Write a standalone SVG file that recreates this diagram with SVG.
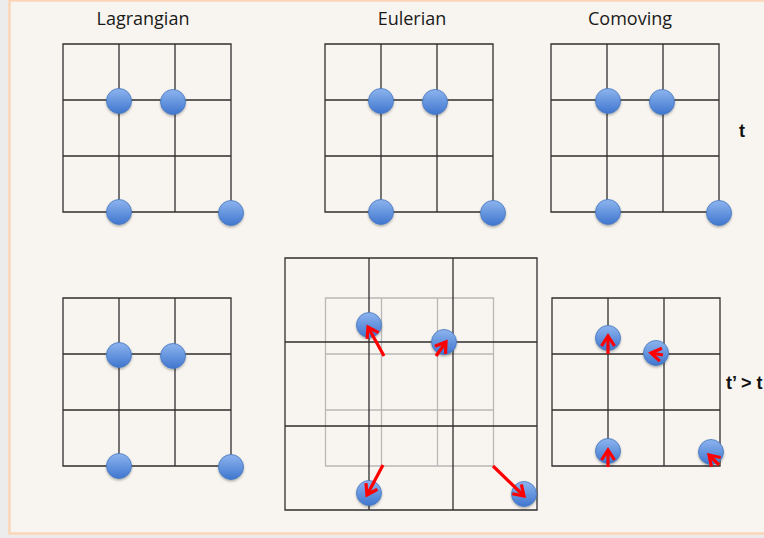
<svg xmlns="http://www.w3.org/2000/svg" width="764" height="538" viewBox="0 0 764 538">
<style>
.frame{fill:#f8f5f0;stroke:#fbd5b8;stroke-width:2.5}
.grid{fill:none;stroke:#2e2e2e;stroke-width:1.3}
.light{fill:none;stroke:#b8b8b8;stroke-width:1.3}
.p{fill:url(#ball);stroke:#4677bf;stroke-width:0.8;filter:url(#sh)}
.lbl{font-family:"Open Sans","Noto Sans",sans-serif;font-size:18px;fill:#1a1a1a;text-anchor:middle}
.tm{font-family:"Liberation Sans",Arial,sans-serif;font-weight:bold;font-size:18px;fill:#111}
.arr{stroke:#ff0000;stroke-width:3.2;fill:none;marker-end:url(#ah)}
</style>
<defs>
<linearGradient id="ball" x1="0" y1="0" x2="0" y2="1">
<stop offset="0" stop-color="#8db4ee"/>
<stop offset="1" stop-color="#3f76cf"/>
</linearGradient>
<filter id="sh" x="-30%" y="-30%" width="160%" height="170%">
<feDropShadow dx="0" dy="1.5" stdDeviation="1.2" flood-color="#000" flood-opacity="0.3"/>
</filter>
<marker id="ah" markerUnits="userSpaceOnUse" markerWidth="20" markerHeight="20" viewBox="-14 -10 20 20" refX="0" refY="0" orient="auto" overflow="visible">
<path d="M-10,-6.5 L0,0 L-10,6.5" fill="none" stroke="#ff0000" stroke-width="3.2" stroke-linejoin="miter"/>
</marker>
<path id="g3" d="M0 0H168V168H0Z M56 0V168 M112 0V168 M0 56H168 M0 112H168"/>
<path id="g3b" d="M0 0H252V252H0Z M84 0V252 M168 0V252 M0 84H252 M0 168H252"/>
</defs>
<rect x="0" y="0" width="764" height="538" fill="#ececec"/>
<rect class="frame" x="9.5" y="0.5" width="770" height="533"/>

<g id="labels">
<text class="lbl" x="143" y="25">Lagrangian</text>
<text class="lbl" x="412" y="25">Eulerian</text>
<text class="lbl" x="630" y="25">Comoving</text>
<text class="tm" x="739" y="137">t</text>
<text class="tm" x="726" y="389">t’ &gt; t</text>
</g>

<g id="lagrangian-t">
<use href="#g3" class="grid" x="63" y="44"/>
<circle class="p" cx="119" cy="101" r="12.5"/>
<circle class="p" cx="173" cy="102" r="12.5"/>
<circle class="p" cx="119" cy="212" r="12.5"/>
<circle class="p" cx="231" cy="213" r="12.5"/>
</g>

<g id="eulerian-t">
<use href="#g3" class="grid" x="325" y="44"/>
<circle class="p" cx="381" cy="101" r="12.5"/>
<circle class="p" cx="435" cy="102" r="12.5"/>
<circle class="p" cx="381" cy="212" r="12.5"/>
<circle class="p" cx="493" cy="213" r="12.5"/>
</g>

<g id="comoving-t">
<use href="#g3" class="grid" x="551" y="44"/>
<circle class="p" cx="608" cy="101" r="12.5"/>
<circle class="p" cx="662" cy="102" r="12.5"/>
<circle class="p" cx="608" cy="212" r="12.5"/>
<circle class="p" cx="719" cy="213" r="12.5"/>
</g>

<g id="lagrangian-t2">
<use href="#g3" class="grid" x="63" y="298"/>
<circle class="p" cx="119" cy="355" r="12.5"/>
<circle class="p" cx="173" cy="356" r="12.5"/>
<circle class="p" cx="119" cy="466" r="12.5"/>
<circle class="p" cx="231" cy="467" r="12.5"/>
</g>

<g id="eulerian-t2">
<use href="#g3" class="light" x="325.5" y="298"/>
<use href="#g3b" class="grid" x="285" y="258"/>
<circle class="p" cx="369" cy="325" r="12.5"/>
<circle class="p" cx="444" cy="342" r="12.5"/>
<circle class="p" cx="369" cy="493" r="12.5"/>
<circle class="p" cx="524" cy="494" r="12.5"/>
</g>

<g id="comoving-t2">
<use href="#g3" class="grid" x="552" y="298"/>
<circle class="p" cx="608" cy="338" r="12.5"/>
<circle class="p" cx="656" cy="353" r="12.5"/>
<circle class="p" cx="608" cy="451" r="12.5"/>
<circle class="p" cx="711" cy="452" r="12.5"/>
</g>

<g id="connectors">
<line class="arr" x1="384" y1="356" x2="368" y2="327"/>
<line class="arr" x1="436" y1="356" x2="446" y2="342"/>
<line class="arr" x1="383" y1="465" x2="367" y2="495"/>
<line class="arr" x1="493" y1="466" x2="524" y2="496"/>
<line class="arr" x1="608" y1="354" x2="608" y2="336"/>
<line class="arr" x1="663" y1="355" x2="651" y2="353"/>
<line class="arr" x1="608" y1="467" x2="608" y2="450"/>
<line class="arr" x1="719" y1="465" x2="709" y2="455"/>
</g>
</svg>
